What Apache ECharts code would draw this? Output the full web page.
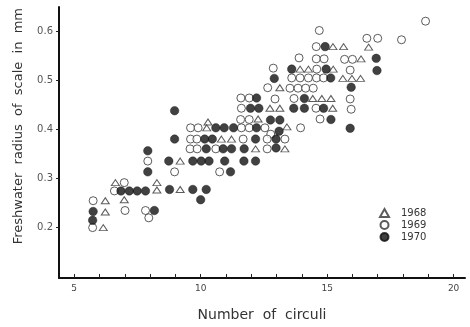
<!DOCTYPE html>
<html>
<head>
<meta charset="utf-8">
<script src="https://cdn.jsdelivr.net/npm/echarts@6/dist/echarts.min.js"></script>
<style>
html,body{margin:0;padding:0;background:#fff;}
#chart{width:470px;height:327px;}
</style>
</head>
<body>
<div id="chart"></div>
<script>
// ---- data ----
const seriesNames = ['1968', '1969', '1970'];
const xTicks = [5, 6, 7, 8, 9, 10, 11, 12, 13, 14, 15, 16, 17, 18, 19, 20];
const xLabels = [5, 10, 15, 20];
const yTicks = [0.2, 0.3, 0.4, 0.5, 0.6];

const x1968 = [15.23,15.65,16.64,16.34,15.24,15.62,15.98,16.32,14.43,14.79,15.15,15.22,13.93,14.26,13.13,12.74,13.13,12.27,10.29,10.24,13.41,10.82,11.22,12.17,13.33,9.19,6.63,8.27,8.27,9.19,6.23,6.98,6.23,6.15];
const y1968 = [0.569,0.569,0.568,0.544,0.523,0.504,0.504,0.504,0.463,0.463,0.463,0.443,0.523,0.523,0.485,0.443,0.443,0.421,0.415,0.403,0.405,0.380,0.380,0.360,0.360,0.335,0.291,0.291,0.276,0.277,0.254,0.256,0.231,0.199];

const x1969 = [18.89,16.57,17.00,17.94,14.69,14.57,13.89,14.57,14.88,15.69,16.00,12.87,14.59,15.91,13.60,13.93,14.26,14.58,14.86,12.65,13.53,13.85,14.15,14.45,11.59,11.92,12.94,13.69,15.91,11.61,14.56,15.95,11.58,11.92,14.72,9.60,9.90,11.61,11.92,12.54,13.95,12.77,9.60,9.85,11.68,12.63,13.33,9.58,9.86,10.60,12.63,7.91,8.97,10.75,6.98,6.59,5.75,7.01,7.82,7.95,5.73];
const y1969 = [0.621,0.586,0.586,0.583,0.602,0.569,0.546,0.544,0.544,0.543,0.543,0.525,0.523,0.521,0.505,0.505,0.505,0.505,0.505,0.485,0.484,0.484,0.484,0.484,0.464,0.464,0.462,0.463,0.462,0.443,0.443,0.441,0.420,0.420,0.421,0.403,0.403,0.403,0.403,0.403,0.403,0.390,0.380,0.380,0.380,0.380,0.380,0.360,0.360,0.360,0.360,0.335,0.313,0.313,0.291,0.274,0.254,0.234,0.234,0.219,0.199];

const x1970 = [14.92,16.94,13.60,14.96,16.97,12.91,15.14,15.95,12.21,14.10,11.97,12.30,13.68,14.10,14.86,8.97,12.76,13.13,15.15,10.60,10.93,11.30,12.21,15.91,13.10,8.97,10.16,10.46,12.17,12.98,7.91,10.22,10.89,11.22,11.72,12.98,8.74,9.69,10.02,10.33,10.95,11.71,12.17,7.91,11.18,6.85,7.18,7.49,7.82,8.77,9.69,10.22,10.00,5.75,8.17,5.73];
const y1970 = [0.569,0.545,0.523,0.523,0.520,0.504,0.505,0.486,0.464,0.463,0.443,0.443,0.443,0.443,0.443,0.438,0.419,0.419,0.420,0.403,0.403,0.403,0.403,0.402,0.396,0.380,0.380,0.380,0.380,0.380,0.356,0.360,0.360,0.360,0.360,0.362,0.335,0.335,0.335,0.335,0.335,0.335,0.335,0.313,0.313,0.274,0.274,0.274,0.274,0.277,0.277,0.277,0.256,0.232,0.234,0.214];

function zip(xs, ys) { return xs.map((x, i) => [x, ys[i]]); }

const FONT = 'DejaVu Sans';
const chart = echarts.init(document.getElementById('chart'), null, {renderer: 'canvas'});
chart.setOption({
  backgroundColor: '#ffffff',
  animation: false,
  textStyle: {fontFamily: FONT},
  grid: {left: 59, right: 5, top: 7, bottom: 44},
  xAxis: {
    type: 'value', min: 4.4, max: 20.45,
    splitLine: {show: false},
    axisLine: {show: true, lineStyle: {color: '#111', width: 2}},
    axisTick: {show: true, inside: true, length: 4, customValues: xTicks, lineStyle: {color: '#222', width: 1}},
    axisLabel: {customValues: xLabels, fontSize: 9, color: '#444', margin: 6},
    name: 'Number  of  circuli', nameLocation: 'middle', nameGap: 30,
    nameTextStyle: {fontSize: 14, color: '#333'}
  },
  yAxis: {
    type: 'value', min: 0.096, max: 0.65,
    splitLine: {show: false},
    axisLine: {show: true, lineStyle: {color: '#111', width: 2}},
    axisTick: {show: true, inside: false, length: 3, customValues: yTicks, lineStyle: {color: '#222', width: 1}},
    axisLabel: {customValues: yTicks, fontSize: 10, color: '#555', margin: 6, formatter: v => v.toFixed(1)}
  },
  graphic: [{
    type: 'text', left: 12, top: 8, rotation: Math.PI / 2,
    style: {text: 'Freshwater  radius  of  scale  in  mm', font: '13px "DejaVu Sans"', fill: '#333'}
  }],
  legend: {
    orient: 'vertical', left: 374, top: 203, itemWidth: 9, itemHeight: 8, itemGap: 2,
    textStyle: {fontSize: 10, color: '#333', padding: [0, 0, 0, 7]},
    data: seriesNames
  },
  series: [
    {name: '1968', type: 'scatter', symbol: 'triangle', symbolSize: [8, 6],
     itemStyle: {color: '#fff', borderColor: '#333', borderWidth: 1}, data: zip(x1968, y1968)},
    {name: '1969', type: 'scatter', symbol: 'circle', symbolSize: 8,
     itemStyle: {color: '#fff', borderColor: '#333', borderWidth: 1}, data: zip(x1969, y1969)},
    {name: '1970', type: 'scatter', symbol: 'circle', symbolSize: 8.5,
     itemStyle: {color: '#111', borderColor: '#111', borderWidth: 0.5}, data: zip(x1970, y1970)}
  ]
});
</script>
</body>
</html>
